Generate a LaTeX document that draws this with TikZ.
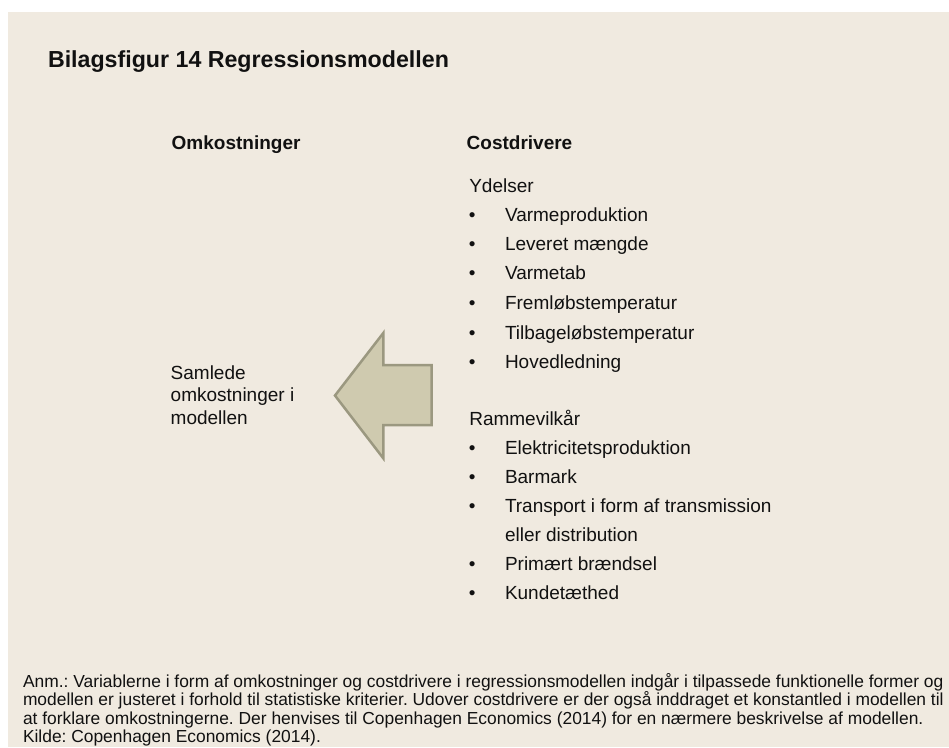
\documentclass[tikz,border=0pt]{standalone}
\usepackage{fontspec}
\setmainfont{Liberation Sans}
\definecolor{panel}{HTML}{F0EAE0}
\definecolor{arrowfill}{HTML}{CFCAAF}
\definecolor{arrowline}{HTML}{9B9880}
\definecolor{ink}{HTML}{111111}

\tikzset{
  txt/.style={inner sep=0pt, outer sep=0pt, anchor=base west, text=ink},
  titletxt/.style={txt, font=\bfseries\fontsize{23.2}{27}\selectfont},
  headtxt/.style={txt, font=\bfseries\fontsize{19}{22}\selectfont},
  bodytxt/.style={txt, font=\fontsize{19}{22.5}\selectfont},
  bullettxt/.style={inner sep=0pt, outer sep=0pt, anchor=base, text=ink, font=\fontsize{19}{22}\selectfont},
  notetxt/.style={txt, font=\fontsize{17.4}{18.5}\selectfont},
  blockarrow/.style={fill=arrowfill, draw=arrowline, line width=2.5pt, line join=miter},
}

\begin{document}
\frenchspacing
\begin{tikzpicture}[x=1pt, y=-1pt]
  \useasboundingbox (0,0) rectangle (949,747);
  % panel
  \fill[panel] (8,12) rectangle (949,747);

  % title
  \node[titletxt] (title) at (48,67) {Bilagsfigur 14 Regressionsmodellen};

  % column headings
  \node[headtxt] (hcost) at (171.7,149.5) {Omkostninger};
  \node[headtxt] (hdrv) at (466.7,149.5) {Costdrivere};

  % left column
  \node[bodytxt] (sum1) at (170.7,379) {Samlede};
  \node[bodytxt] (sum2) at (170.7,401.5) {omkostninger i};
  \node[bodytxt] (sum3) at (170.7,424) {modellen};

  % block arrow pointing left
  \draw[blockarrow] (335,395.5) -- (383.3,333) -- (383.3,365) -- (431.7,365)
    -- (431.7,425) -- (383.3,425) -- (383.3,458.3) -- cycle;

  % right column: output drivers
  \node[bodytxt] (ydl) at (469.3,192) {Ydelser};
  \foreach \y/\t/\n in {221/Varmeproduktion/y1, 250.5/Leveret mængde/y2,
      279.5/Varmetab/y3, 309/Fremløbstemperatur/y4,
      339/Tilbageløbstemperatur/y5, 368.5/Hovedledning/y6} {
    \node[bullettxt] (b-\n) at (472.3,\y) {•};
    \node[bodytxt] (\n) at (505,\y) {\t};
  }

  % right column: framework conditions
  \node[bodytxt] (ram) at (469.3,425.5) {Rammevilkår};
  \foreach \y/\t/\n in {454.5/Elektricitetsproduktion/r1, 483.5/Barmark/r2,
      512.5/Transport i form af transmission/r3,
      570.5/Primært brændsel/r4, 599.5/Kundetæthed/r5} {
    \node[bullettxt] (b-\n) at (472.3,\y) {•};
    \node[bodytxt] (\n) at (505,\y) {\t};
  }
  \node[bodytxt] (r3b) at (505,541.5) {eller distribution};

  % note and source
  \node[notetxt] (note1) at (23,687.5) {Anm.: Variablerne i form af omkostninger og costdrivere i regressionsmodellen indgår i tilpassede funktionelle former og};
  \node[notetxt] (note2) at (23,705.8) {modellen er justeret i forhold til statistiske kriterier. Udover costdrivere er der også inddraget et konstantled i modellen til};
  \node[notetxt] (note3) at (23,724.1) {at forklare omkostningerne. Der henvises til Copenhagen Economics (2014) for en nærmere beskrivelse af modellen.};
  \node[notetxt] (src) at (23,742.4) {Kilde: Copenhagen Economics (2014).};
\end{tikzpicture}
\end{document}
